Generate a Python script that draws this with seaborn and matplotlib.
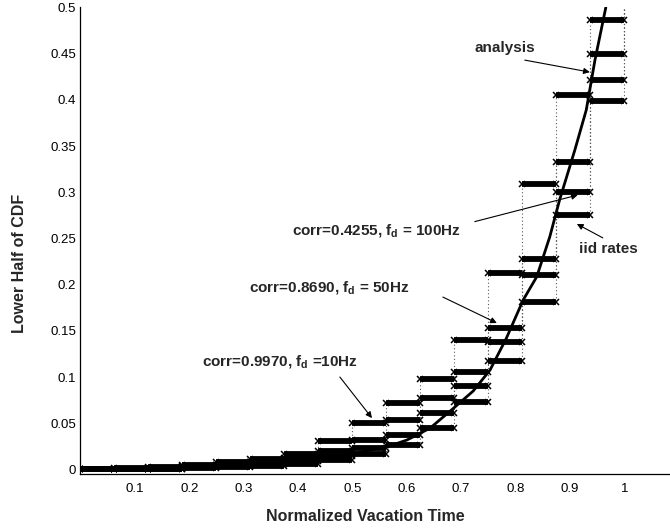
import numpy as np
import pandas as pd
import matplotlib
matplotlib.use("Agg")
import matplotlib.pyplot as plt
import seaborn as sns

# Bin edges of the normalized vacation time (16 equal bins on [0, 1])
bin_edges = np.linspace(0.0, 1.0, 17)

# Lower half of the CDF per bin for each channel setting
cdf_corr_9970 = [0.0010, 0.0015, 0.0025, 0.0050, 0.0080, 0.0115, 0.0169, 0.0310,
                 0.0500, 0.0717, 0.0980, 0.1402, 0.2130, 0.3086, 0.4050, 0.4860]
cdf_corr_8690 = [0.0006, 0.0010, 0.0018, 0.0035, 0.0055, 0.0085, 0.0122, 0.0205,
                 0.0320, 0.0537, 0.0771, 0.1052, 0.1528, 0.2275, 0.3331, 0.4496]
cdf_corr_4255 = [0.0003, 0.0006, 0.0012, 0.0025, 0.0040, 0.0060, 0.0090, 0.0147,
                 0.0230, 0.0374, 0.0609, 0.0908, 0.1377, 0.2105, 0.3006, 0.4211]
cdf_iid = [0.0002, 0.0004, 0.0008, 0.0015, 0.0025, 0.0040, 0.0060, 0.0104,
           0.0169, 0.0266, 0.0447, 0.0735, 0.1175, 0.1816, 0.2754, 0.3990]
cdf_end = 0.5

# Analytical curve
analysis_x = [0.0, 0.1, 0.2, 0.3, 0.4, 0.5, 0.57, 0.60, 0.643, 0.685, 0.722,
              0.753, 0.783, 0.814, 0.839, 0.863, 0.881, 0.909, 0.930, 0.946, 0.966]
analysis_y = [0.0, 0.0005, 0.0015, 0.004, 0.009, 0.017, 0.026, 0.032, 0.045, 0.066,
              0.085, 0.1077, 0.142, 0.1835, 0.2087, 0.252, 0.2918, 0.3457, 0.389, 0.443, 0.500]

x_ticks = [0.1, 0.2, 0.3, 0.4, 0.5, 0.6, 0.7, 0.8, 0.9, 1.0]
x_tick_labels = ["0.1", "0.2", "0.3", "0.4", "0.5", "0.6", "0.7", "0.8", "0.9", "1"]
y_ticks = [0, 0.05, 0.1, 0.15, 0.2, 0.25, 0.3, 0.35, 0.4, 0.45, 0.5]
y_tick_labels = ["0", "0.05", "0.1", "0.15", "0.2", "0.25", "0.3", "0.35", "0.4", "0.45", "0.5"]

sns.set_style("white")
plt.rcParams["font.family"] = ["Liberation Sans", "DejaVu Sans"]
plt.rcParams["mathtext.fontset"] = "custom"
plt.rcParams["mathtext.rm"] = "Liberation Sans:bold"
plt.rcParams["mathtext.bf"] = "Liberation Sans:bold"
plt.rcParams["mathtext.it"] = "Liberation Sans:bold"

fig = plt.figure(figsize=(6.70, 5.29), dpi=100)
ax = fig.add_axes([0.1201, 0.1034, 0.8799, 0.8826])

all_series = [cdf_corr_9970, cdf_corr_8690, cdf_corr_4255, cdf_iid]

# Dotted staircase joining the bins of each series, closing at 0.5 at x = 1
for vals in all_series:
    stair = pd.DataFrame({"x": bin_edges, "y": list(vals) + [cdf_end]})
    sns.lineplot(data=stair, x="x", y="y", ax=ax, color="0.35", lw=0.8,
                 linestyle=(0, (1, 2.2)), drawstyle="steps-post",
                 estimator=None, sort=False, legend=False)

# Thick per-bin levels with small cross markers at the ends
for vals in all_series:
    xs, ys = [], []
    for k, v in enumerate(vals):
        xs += [bin_edges[k], bin_edges[k + 1], np.nan]
        ys += [v, v, np.nan]
    ax.plot(xs, ys, color="black", lw=4.2, solid_capstyle="butt",
            marker="x", ms=4.5, mew=1.1, zorder=3)

# Analysis curve
curve = pd.DataFrame({"x": analysis_x, "y": analysis_y})
sns.lineplot(data=curve, x="x", y="y", ax=ax, color="black", lw=2.0,
             estimator=None, sort=False, legend=False, zorder=4)

arrow = dict(arrowstyle="-|>", color="black", lw=0.8, mutation_scale=9,
             shrinkA=0, shrinkB=0)
fs_ann = 11

ax.text(0.780, 0.456, "analysis", fontsize=fs_ann, fontweight="bold",
        ha="center", va="center")
ax.annotate("", xy=(0.9366, 0.430), xytext=(0.817, 0.443), arrowprops=arrow)

ax.text(0.544, 0.259, r"corr=0.4255, $\mathbf{f_d}$ = 100Hz", fontsize=fs_ann,
        fontweight="bold", ha="center", va="center")
ax.annotate("", xy=(0.9145, 0.2971), xytext=(0.725, 0.2683), arrowprops=arrow)

ax.text(0.458, 0.1975, r"corr=0.8690, $\mathbf{f_d}$ = 50Hz", fontsize=fs_ann,
        fontweight="bold", ha="center", va="center")
ax.annotate("", xy=(0.7656, 0.1586), xytext=(0.6664, 0.1867), arrowprops=arrow)

ax.text(0.3667, 0.1167, r"corr=0.9970, $\mathbf{f_d}$ =10Hz", fontsize=fs_ann,
        fontweight="bold", ha="center", va="center")
ax.annotate("", xy=(0.536, 0.0558), xytext=(0.477, 0.1002), arrowprops=arrow)

ax.text(0.9715, 0.2385, "iid rates", fontsize=fs_ann, fontweight="bold",
        ha="center", va="center")
ax.annotate("", xy=(0.9127, 0.2658), xytext=(0.9605, 0.2507), arrowprops=arrow)

ax.set_xlim(0, 1.084)
ax.set_ylim(-0.005, 0.5)
ax.set_xticks(x_ticks)
ax.set_xticklabels(x_tick_labels)
ax.set_yticks(y_ticks)
ax.set_yticklabels(y_tick_labels)
ax.tick_params(axis="both", direction="in", length=4, width=0.8,
               labelsize=9.5, colors="black")
ax.tick_params(axis="x", pad=6)
ax.tick_params(axis="y", pad=3)

for side in ["top", "right"]:
    ax.spines[side].set_visible(False)
for side in ["left", "bottom"]:
    ax.spines[side].set_color("black")
    ax.spines[side].set_linewidth(0.9)

ax.set_xlabel("Normalized Vacation Time", fontsize=11.5, fontweight="bold", va="center")
ax.xaxis.set_label_coords(0.484, -0.0908)
ax.set_ylabel("Lower Half of CDF", fontsize=11.5, fontweight="bold", va="center")
ax.yaxis.set_label_coords(-0.1026, 0.4526)

fig.savefig("out.png", dpi=100)
